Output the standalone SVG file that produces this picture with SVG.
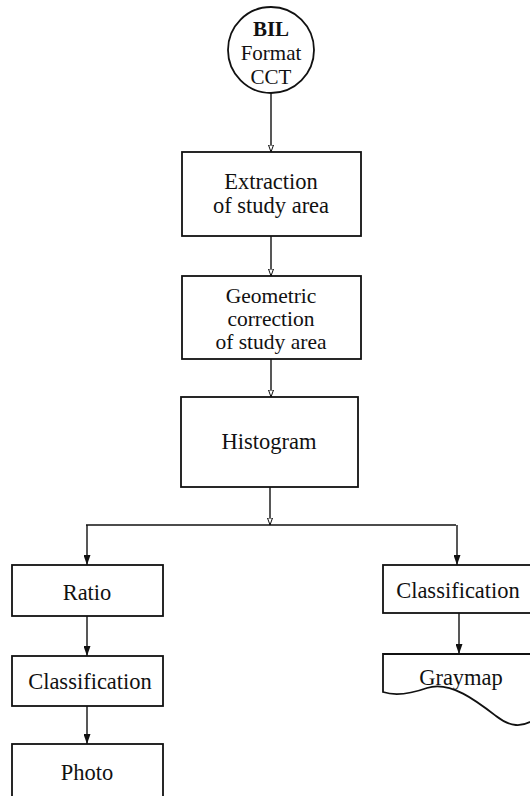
<svg xmlns="http://www.w3.org/2000/svg" width="530" height="796" viewBox="0 0 530 796">
<style>
.n{fill:#fff;stroke:#111;stroke-width:1.8}
.c{fill:none;stroke:#111;stroke-width:1.4}
text{font-family:"Liberation Serif","Times New Roman",serif;font-size:22.5px;fill:#111;text-anchor:middle}
.s{font-size:21px}
.g{font-size:21.5px}
</style>
<defs>
<marker id="ao" viewBox="0 0 8 6" refX="7.5" refY="3" markerWidth="8" markerHeight="6" markerUnits="userSpaceOnUse" orient="auto">
<path d="M0.5,0.5 L7.5,3 L0.5,5.5 Z" fill="#fff" stroke="#111" stroke-width="1"/>
</marker>
<marker id="af" viewBox="0 0 10 7" refX="10" refY="3.5" markerWidth="10" markerHeight="7" markerUnits="userSpaceOnUse" orient="auto">
<path d="M0,0 L10,3.5 L0,7 Z" fill="#111"/>
</marker>
</defs>
<g id="connectors">
<path class="c" d="M271,93 V152" marker-end="url(#ao)"/>
<path class="c" d="M271,236 V276" marker-end="url(#ao)"/>
<path class="c" d="M271,359 V397" marker-end="url(#ao)"/>
<path class="c" d="M270,487 V525" marker-end="url(#ao)"/>
<path class="c" d="M86,525 H456"/>
<path class="c" d="M87,525 V565" marker-end="url(#af)"/>
<path class="c" d="M457,525 V565" marker-end="url(#af)"/>
<path class="c" d="M87,616 V656" marker-end="url(#af)"/>
<path class="c" d="M87,706 V744" marker-end="url(#af)"/>
<path class="c" d="M459,613 V654" marker-end="url(#af)"/>
</g>
<g id="bil">
<ellipse class="n" cx="271" cy="50" rx="43" ry="43"/>
<text class="s" x="271" y="36" font-weight="bold">BIL</text>
<text class="s" x="271" y="60">Format</text>
<text class="s" x="271" y="84">CCT</text>
</g>
<g id="extraction">
<rect class="n" x="182" y="152" width="179" height="84"/>
<text x="271" y="189">Extraction</text>
<text x="271" y="213">of study area</text>
</g>
<g id="geometric">
<rect class="n" x="182" y="276" width="179" height="83"/>
<text class="g" x="271" y="303">Geometric</text>
<text class="g" x="271" y="326">correction</text>
<text class="g" x="271" y="349">of study area</text>
</g>
<g id="histogram">
<rect class="n" x="181" y="397" width="177" height="90"/>
<text x="269" y="449">Histogram</text>
</g>
<g id="ratio">
<rect class="n" x="12" y="565" width="151" height="51"/>
<text x="87" y="600">Ratio</text>
</g>
<g id="classification-left">
<rect class="n" x="12" y="656" width="151" height="50"/>
<text x="90" y="689">Classification</text>
</g>
<g id="photo">
<rect class="n" x="12" y="744" width="151" height="60"/>
<text x="87" y="780">Photo</text>
</g>
<g id="classification-right">
<rect class="n" x="383" y="565" width="160" height="48"/>
<text x="458" y="598">Classification</text>
</g>
<g id="graymap">
<path class="n" d="M383,654 H535 V719 C522,728 510,727 496,716 C478,702 450,680 427,688 C410,694 395,696 383,692 Z"/>
<text x="461" y="685">Graymap</text>
</g>
</svg>
